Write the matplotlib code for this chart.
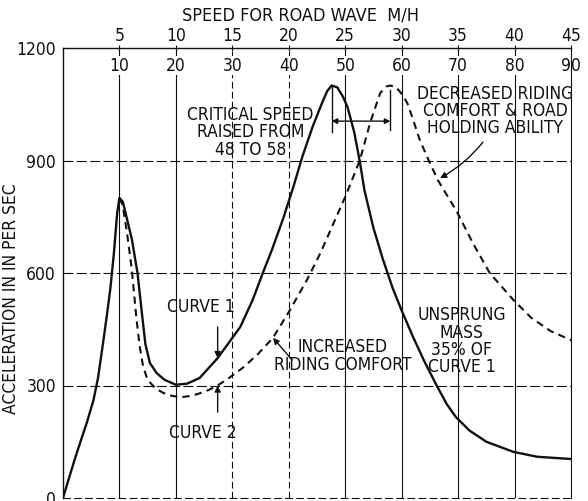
import matplotlib
matplotlib.use('Agg')
import matplotlib.pyplot as plt
from matplotlib import font_manager

# prefer a narrow lettering font, like the drawing's stencil letters
narrow = [f for f in font_manager.fontManager.ttflist
          if f.style == 'normal' and f.weight in (400, 'normal', 'regular')
          and str(f.stretch) in ('condensed', 'semi-condensed', 'extra-condensed')]
if narrow:
    plt.rcParams['font.family'] = [narrow[0].name, 'DejaVu Sans']
    plt.rcParams['font.stretch'] = str(narrow[0].stretch)
    fs = 12.5
else:
    plt.rcParams['font.family'] = ['Liberation Sans', 'DejaVu Sans']
    fs = 11.2

# top scale: speed for road wave (m/h) and the second row of labels
speed_ticks = [5, 10, 15, 20, 25, 30, 35, 40, 45]
wave_labels = [10, 20, 30, 40, 50, 60, 70, 80, 90]
accel_ticks = [0, 300, 600, 900, 1200]

# curve 1 (solid)
curve1_speed = [0, 0.5, 1.1, 1.6, 2.1, 2.7, 3.1, 3.5, 3.9, 4.2, 4.5, 4.8, 5.0,
                5.3, 5.7, 6.1, 6.6, 7.0, 7.3, 7.7, 8.3, 9.0, 10.0, 11.0, 12.1,
                13.7, 15.7, 16.8, 17.7, 18.5, 19.5, 20.4, 21.2, 22.1, 22.9, 23.4,
                23.8, 24.3, 24.8, 25.2, 25.8, 26.3, 26.7, 27.5, 28.3, 29.2, 30.0,
                31.0, 32.0, 33.1, 34.0, 34.8, 36.0, 37.5, 39.9, 42.0, 45.0]
curve1_accel = [0, 50, 109, 155, 200, 261, 320, 403, 490, 560, 650, 760, 800,
                790, 740, 690, 600, 490, 410, 360, 333, 315, 302, 305, 320,
                373, 456, 528, 600, 661, 745, 829, 910, 989, 1050, 1085,
                1100, 1095, 1070, 1043, 975, 896, 821, 720, 640, 560, 500,
                430, 365, 300, 250, 216, 180, 150, 123, 110, 104]

# curve 2 (dashed)
curve2_speed = [5.0, 5.3, 5.7, 6.1, 6.5, 6.8, 7.1, 7.5, 8.2, 8.9, 9.7, 10.5,
                11.3, 12.0, 12.9, 13.7, 14.8, 16.0, 17.3, 18.6, 20.1, 21.6,
                22.8, 24.0, 25.0, 26.3, 27.2, 28.1, 28.6, 29.0, 29.5, 30.0,
                30.5, 31.0, 31.6, 32.4, 33.2, 34.9, 36.3, 37.8, 39.9, 41.5,
                43.2, 45.0]
curve2_accel = [800, 780, 700, 608, 480, 403, 350, 315, 292, 280, 272, 269,
                272, 278, 288, 300, 322, 349, 385, 427, 501, 581,
                653, 735, 803, 901, 1000, 1080, 1097, 1100, 1095, 1078,
                1053, 1010, 955, 900, 848, 763, 680, 600, 528, 480,
                445, 421]

ink = '#111111'

fig = plt.figure(figsize=(5.88, 5.01), dpi=100)
ax = fig.add_axes([63 / 588, 3 / 501, 508 / 588, 450 / 501])
ax.set_xlim(0, 45)
ax.set_ylim(0, 1200)

# grid lines
for s in speed_ticks[:-1]:
    ls = (0, (6, 3)) if s in (15, 20) else '-'
    ax.axvline(s, color=ink, lw=0.8, ls=ls, zorder=1)
for a in accel_ticks[1:-1]:
    ax.axhline(a, color=ink, lw=0.8, ls=(0, (9, 3)), zorder=1)

ax.spines['left'].set_linewidth(1.0)
ax.spines['top'].set_linewidth(1.0)
ax.spines['right'].set_linewidth(0.8)
ax.spines['bottom'].set_linewidth(0.8)
ax.spines['bottom'].set_linestyle((0, (6, 4)))
for sp in ax.spines.values():
    sp.set_color(ink)

ax.plot(curve1_speed, curve1_accel, color=ink, lw=1.7, zorder=3)
ax.plot(curve2_speed, curve2_accel, color=ink, lw=1.5, ls=(0, (3.5, 2.5)), zorder=3)

# axes ticks
ax.set_xticks(speed_ticks)
ax.set_xticklabels([str(s) for s in speed_ticks])
ax.tick_params(axis='x', top=True, labeltop=True, bottom=False, labelbottom=False,
               direction='inout', length=5, width=0.8, pad=0, labelsize=fs, colors=ink)
ax.set_yticks(accel_ticks)
ax.tick_params(axis='y', length=0, pad=5, labelsize=fs, colors=ink)

# second row of labels, just under the top line
for s, w in zip(speed_ticks, wave_labels):
    ax.text(s, 1153, str(w), ha='center', va='center', fontsize=fs, color=ink,
            bbox=dict(facecolor='white', edgecolor='none', pad=0.5), zorder=2)

ax.text(0.467, 1.073, 'SPEED FOR ROAD WAVE  M/H', transform=ax.transAxes,
        ha='center', va='center', fontsize=fs + 0.5, color=ink)
ax.set_ylabel('ACCELERATION IN IN PER SEC', fontsize=fs, color=ink)
ax.yaxis.set_label_coords(-0.085, 0.444)

txt = dict(ha='center', va='center', fontsize=fs, color=ink, linespacing=0.95, zorder=4)
ax.text(16.6, 975, 'CRITICAL SPEED\nRAISED FROM\n48 TO 58', **txt)
ax.text(38.3, 1032, 'DECREASED RIDING\nCOMFORT & ROAD\nHOLDING ABILITY', **txt)
ax.text(12.2, 509, 'CURVE 1', **txt)
ax.text(12.4, 173, 'CURVE 2', **txt)
ax.text(24.8, 379, 'INCREASED\nRIDING COMFORT', **txt)
ax.text(35.3, 418, 'UNSPRUNG\nMASS\n35% OF\nCURVE 1', **txt)

# critical speed markers
ax.plot([23.8, 23.8], [976, 1096], color=ink, lw=1.0, zorder=3)
ax.plot([29.0, 29.0], [981, 1088], color=ink, lw=1.0, zorder=3)
ax.annotate('', xy=(23.8, 1005), xytext=(29.0, 1005),
            arrowprops=dict(arrowstyle='<|-|>', color=ink, lw=1.0,
                            mutation_scale=8, shrinkA=0, shrinkB=0))

arrow = dict(arrowstyle='-|>', color=ink, lw=1.0, mutation_scale=9, shrinkA=0, shrinkB=0)
ax.annotate('', xy=(33.4, 853), xytext=(37.2, 949),
            arrowprops=dict(connectionstyle='arc3,rad=-0.1', **arrow))
ax.annotate('', xy=(13.7, 373), xytext=(13.7, 456), arrowprops=arrow)
ax.annotate('', xy=(13.7, 300), xytext=(13.7, 229), arrowprops=arrow)
ax.annotate('', xy=(18.6, 427), xytext=(20.3, 368), arrowprops=arrow)

fig.savefig('out.png', dpi=100, facecolor='white')
